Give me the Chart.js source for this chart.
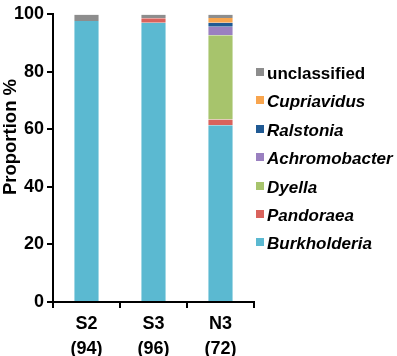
<!DOCTYPE html>
<html>
<head>
<meta charset="utf-8">
<script src="https://cdn.jsdelivr.net/npm/chart.js@4"></script>
<style>
  body { margin: 0; background: #fff; }
  #wrap { position: relative; width: 397px; height: 356px; }
  #legend { position: absolute; left: 256px; top: 63px; font-family: Arial, "Liberation Sans", sans-serif; font-weight: bold; font-size: 17px; color: #000; }
  #legend div { height: 28.4px; line-height: 22px; white-space: nowrap; }
  #legend span.box { display: inline-block; width: 8px; height: 8px; margin-right: 3px; vertical-align: 3px; }
</style>
</head>
<body>
<div id="wrap">
  <canvas id="myChart" width="397" height="356"></canvas>
  <div id="legend"></div>
</div>
<script>
// samples with number of isolates
const categories = [['S2', '(94)'], ['S3', '(96)'], ['N3', '(72)']];
const yTicks = [0, 20, 40, 60, 80, 100];
const yTitle = 'Proportion %';

// proportions (%) per genus
const burkholderia  = [97.7, 97.1, 61.5];
const pandoraea     = [0,    1.6,  2.0];
const dyella        = [0,    0,    29.3];
const achromobacter = [0,    0,    2.9];
const ralstonia     = [0,    0,    1.4];
const cupriavidus   = [0,    0,    1.7];
const unclassified  = [2.3,  1.3,  1.2];

const series = [
    { label: 'Burkholderia',  data: burkholderia,  color: '#5BB9D1', italic: true },
    { label: 'Pandoraea',     data: pandoraea,     color: '#D9625C', italic: true },
    { label: 'Dyella',        data: dyella,        color: '#A7C46C', italic: true },
    { label: 'Achromobacter', data: achromobacter, color: '#9A80C0', italic: true },
    { label: 'Ralstonia',     data: ralstonia,     color: '#205A94', italic: true },
    { label: 'Cupriavidus',   data: cupriavidus,   color: '#F8A54E', italic: true },
    { label: 'unclassified',  data: unclassified,  color: '#8D8D8D', italic: false }
];

const fontFamily = 'Arial, "Liberation Sans", sans-serif';
const font = { family: fontFamily, size: 18, weight: 'bold', lineHeight: 1.27 };

// y title drawn by hand, it sits a bit above the middle of the axis
const yTitlePlugin = {
    id: 'yTitle',
    afterDraw(chart) {
        const c = chart.ctx;
        c.save();
        c.translate(11, 137);
        c.rotate(-Math.PI / 2);
        c.font = 'bold 18.5px ' + fontFamily;
        c.fillStyle = '#000';
        c.textAlign = 'center';
        c.textBaseline = 'middle';
        c.fillText(yTitle, 0, 0);
        c.restore();
    }
};

const ctx = document.getElementById('myChart');

const myChart = new Chart(ctx, {
    type: 'bar',
    data: {
        labels: categories,
        datasets: series.map(s => ({
            label: s.label,
            data: s.data,
            backgroundColor: s.color,
            borderColor: 'rgba(255,255,255,0.6)',
            borderWidth: { left: 1, right: 1 },
            barPercentage: 0.39,
            categoryPercentage: 1
        }))
    },
    plugins: [yTitlePlugin],
    options: {
        responsive: false,
        animation: false,
        layout: { autoPadding: false, padding: { top: 11, right: 143, bottom: 0, left: 0 } },
        plugins: { legend: { display: false }, tooltip: { enabled: false } },
        scales: {
            x: {
                stacked: true,
                border: { color: '#000', width: 2 },
                grid: { offset: true, drawOnChartArea: false, color: '#000', lineWidth: 2, tickLength: 6 },
                ticks: { color: '#000', font: { ...font, lineHeight: 1.36 }, padding: 4 },
                afterFit: s => { s.height = 54; }
            },
            y: {
                stacked: true,
                min: 0,
                max: 100,
                afterBuildTicks: s => { s.ticks = yTicks.map(v => ({ value: v })); },
                border: { color: '#000', width: 2 },
                grid: { drawOnChartArea: false, color: '#000', lineWidth: 2, tickLength: 6 },
                ticks: { color: '#000', font: font, padding: 3 },
                afterFit: s => { s.width = 53; }
            }
        }
    }
});

// legend, top to bottom = reverse of stack order
const legend = document.getElementById('legend');
series.slice().reverse().forEach(s => {
    const row = document.createElement('div');
    row.innerHTML = '<span class="box" style="background:' + s.color + '"></span>' +
        '<span style="font-style:' + (s.italic ? 'italic' : 'normal') + '">' + s.label + '</span>';
    legend.appendChild(row);
});
</script>
</body>
</html>
